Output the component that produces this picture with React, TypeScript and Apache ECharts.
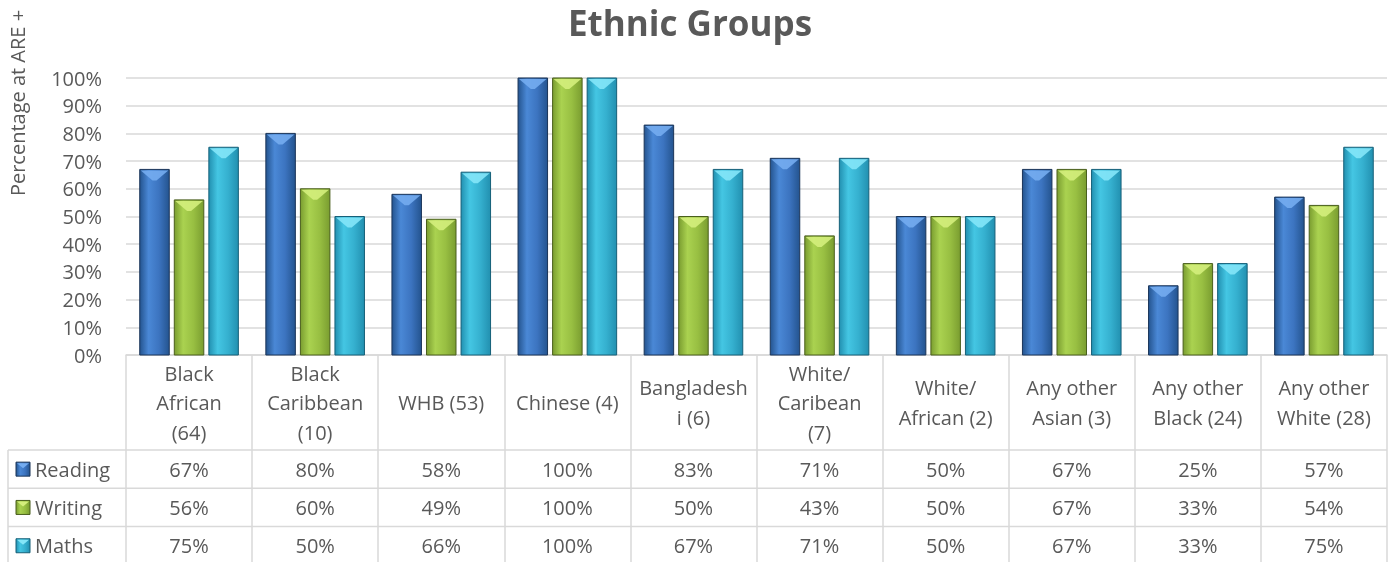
import React, { useEffect, useRef } from 'react';
import * as echarts from 'echarts';

const categories = [
  'Black\nAfrican\n(64)',
  'Black\nCaribbean\n(10)',
  'WHB (53)',
  'Chinese (4)',
  'Bangladesh\ni (6)',
  'White/\nCaribean\n(7)',
  'White/\nAfrican (2)',
  'Any other\nAsian (3)',
  'Any other\nBlack (24)',
  'Any other\nWhite (28)',
];
const seriesNames = ['Reading', 'Writing', 'Maths'];
const reading = [67, 80, 58, 100, 83, 71, 50, 67, 25, 57];
const writing = [56, 60, 49, 100, 50, 43, 50, 67, 33, 54];
const maths = [75, 50, 66, 100, 67, 71, 50, 67, 33, 75];
const seriesValues = [reading, writing, maths];
const yMin = 0;
const yMax = 100;
const yInterval = 10;
const titleText = 'Ethnic Groups';
const yAxisTitle = 'Percentage at ARE +';

const palettes = [
  { edge: '#24548f', mid: '#4a88d6', mid2: '#3c74c0', light: '#74acf0', border: '#1b3559' },
  { edge: '#7a9d30', mid: '#aad250', mid2: '#98bf42', light: '#d4ee7c', border: '#4a5f1d' },
  { edge: '#2290b0', mid: '#44c6e3', mid2: '#35b0cf', light: '#84e6f8', border: '#166079' },
];

const FONT = '"Open Sans", sans-serif';
const TEXT = '#595959';
const LINE = '#d9d9d9';

const GRID_LEFT = 126;
const GRID_RIGHT = 8;
const GRID_TOP = 78;
const GRID_BOTTOM = 207;
const W = 1395;
const H = 562;
const TABLE_LEFT = 8;
const HEADER_H = 95;
const ROW_H = 38.3;

function barFill(p: any) {
  return new echarts.graphic.LinearGradient(0, 0, 1, 0, [
    { offset: 0, color: p.edge },
    { offset: 0.3, color: p.mid },
    { offset: 0.65, color: p.mid2 },
    { offset: 1, color: p.edge },
  ]);
}

function makeRender(si: number) {
  const p = palettes[si];
  return (params: any, api: any) => {
    const cat = api.value(0);
    const val = api.value(1);
    const base = api.coord([cat, 0]);
    const top = api.coord([cat, val]);
    const band = api.size([1, 0])[0];
    const bw = band * 0.234;
    const step = band * 0.274;
    const cx = base[0] + (si - 1) * step;
    const x = cx - bw / 2;
    const y = top[1];
    const h = base[1] - top[1];
    const bev = Math.min(11, h / 2);
    return {
      type: 'group',
      children: [
        {
          type: 'rect',
          shape: { x, y, width: bw, height: h },
          style: { fill: barFill(p), stroke: p.border, lineWidth: 1 },
        },
        {
          type: 'polygon',
          shape: { points: [[x + 1, y + 1], [x + bw - 1, y + 1], [cx + 2, y + bev], [cx - 2, y + bev]] },
          style: { fill: p.light, opacity: 0.9 },
        },
      ],
    };
  };
}

export default function App() {
  const ref = useRef<HTMLDivElement>(null);
  useEffect(() => {
    if (!ref.current) return;
    const chart = echarts.init(ref.current, null, { renderer: 'svg' });
    const series = seriesNames.map((name, si) => ({
      type: 'custom',
      name,
      renderItem: makeRender(si),
      encode: { x: 0, y: 1 },
      data: seriesValues[si].map((v, i) => [i, v]),
    }));
    chart.setOption({
      animation: false,
      textStyle: { fontFamily: FONT },
      title: {
        text: titleText,
        left: 563,
        top: 0,
        textStyle: { fontSize: 35, fontWeight: 'bold', color: TEXT, fontFamily: FONT },
      },
      grid: { left: GRID_LEFT, right: GRID_RIGHT, top: GRID_TOP, bottom: GRID_BOTTOM, containLabel: false },
      xAxis: {
        type: 'category',
        data: categories,
        axisLine: { show: true, lineStyle: { color: LINE, width: 1.5 } },
        axisTick: { show: true, interval: 0, length: GRID_BOTTOM, lineStyle: { color: LINE, width: 1.5 } },
        axisLabel: {
          interval: 0,
          margin: HEADER_H / 2,
          verticalAlign: 'middle',
          align: 'center',
          lineHeight: 29.5,
          fontSize: 20,
          color: TEXT,
          fontFamily: FONT,
        },
      },
      yAxis: {
        type: 'value',
        min: yMin,
        max: yMax,
        interval: yInterval,
        axisLine: { show: false },
        axisTick: { show: false },
        splitLine: { show: true, lineStyle: { color: LINE, width: 1.5 } },
        axisLabel: { formatter: '{value}%', fontSize: 20, color: TEXT, margin: 24, fontFamily: FONT },
      },
      series,
    });

    const axisY = H - GRID_BOTTOM;
    const headerBottom = axisY + HEADER_H;
    const right = W - GRID_RIGHT;
    const graphic: any[] = [];
    graphic.push({
      type: 'text',
      x: 17,
      y: 103,
      rotation: Math.PI / 2,
      style: { text: yAxisTitle, fontSize: 20, fill: TEXT, fontFamily: FONT, align: 'center', verticalAlign: 'middle' },
    });
    for (let r = 0; r <= 3; r++) {
      const yy = headerBottom + r * ROW_H;
      graphic.push({
        type: 'line',
        shape: { x1: TABLE_LEFT, y1: yy, x2: right, y2: yy },
        style: { stroke: LINE, lineWidth: 1.5 },
      });
    }
    graphic.push({
      type: 'line',
      shape: { x1: TABLE_LEFT, y1: headerBottom, x2: TABLE_LEFT, y2: H },
      style: { stroke: LINE, lineWidth: 1.5 },
    });
    seriesNames.forEach((name, si) => {
      const p = palettes[si];
      const cy = headerBottom + (si + 0.5) * ROW_H;
      graphic.push({
        type: 'rect',
        shape: { x: 16, y: cy - 7, width: 14, height: 14 },
        style: { fill: barFill(p), stroke: p.border, lineWidth: 1 },
      });
      graphic.push({
        type: 'polygon',
        shape: { points: [[17, cy - 6], [29, cy - 6], [23, cy - 1]] },
        style: { fill: p.light },
      });
      graphic.push({
        type: 'text',
        x: 35,
        y: cy,
        style: { text: name, fontSize: 20, fill: TEXT, fontFamily: FONT, align: 'left', verticalAlign: 'middle' },
      });
      seriesValues[si].forEach((v, i) => {
        const pt = chart.convertToPixel({ xAxisIndex: 0, yAxisIndex: 0 }, [i, 0]) as number[];
        graphic.push({
          type: 'text',
          x: pt[0],
          y: cy,
          style: { text: v + '%', fontSize: 20, fill: TEXT, fontFamily: FONT, align: 'center', verticalAlign: 'middle' },
        });
      });
    });
    chart.setOption({ graphic });
    return () => chart.dispose();
  }, []);
  return <div ref={ref} style={{ position: 'fixed', left: 0, top: 0, width: W, height: H }} />;
}
